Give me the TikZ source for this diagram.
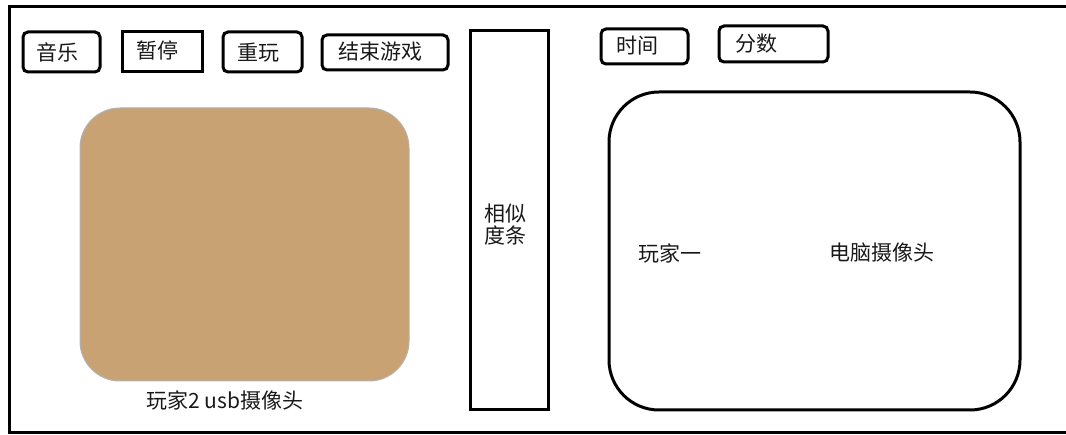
\documentclass[tikz,border=0pt]{standalone}
\usepackage{fontspec}
\newfontfamily\cjk{Noto Sans CJK SC}
\definecolor{camtan}{RGB}{201,162,115}
\definecolor{txt}{RGB}{25,25,25}
\begin{document}
\begin{tikzpicture}[x=1pt,y=-1pt,
  btn/.style={draw=black,line width=3pt,rounded corners=5pt},
  sqbtn/.style={draw=black,line width=3pt},
  lbl/.style={font=\cjk\fontsize{21}{24}\selectfont,text=txt,inner sep=0pt},
  frame/.style={draw=black,line width=3pt}]
\useasboundingbox (0,0) rectangle (1066,435);
% outer frame (open on right)
\draw[frame] (1070,7) -- (9,7) -- (9,433) -- (1070,433);
% top buttons
\draw[btn] (23,32) rectangle (100,72);
\node[lbl] (music) at (57,52) {音乐};
\draw[sqbtn] (122,32) rectangle (202,72);
\node[lbl] (pause) at (157,50) {暂停};
\draw[btn] (223,32) rectangle (302,72);
\node[lbl] (replay) at (258,53) {重玩};
\draw[btn] (322,35) rectangle (448,70);
\node[lbl] (quit) at (380,52) {结束游戏};
% similarity bar
\draw[sqbtn] (470,31) rectangle (548,410);
\node[lbl,align=center] (sim) at (505,225) {相似\\[-2pt]度条};
% right buttons
\draw[btn] (601,29) rectangle (688,64);
\node[lbl] (time) at (637,46) {时间};
\draw[btn] (719,26) rectangle (828,62);
\node[lbl] (score) at (756,44) {分数};
% player 2 camera
\draw[draw=gray!60,fill=camtan,line width=1pt,rounded corners=40pt] (80,108) rectangle (409,381);
\node[lbl] (p2) at (225,400) {玩家2 usb摄像头};
% computer camera
\draw[frame,rounded corners=50pt] (609,92) rectangle (1020,410);
\node[lbl] (p1) at (670,253) {玩家一};
\node[lbl] (pc) at (882,253) {电脑摄像头};
\end{tikzpicture}
\end{document}
